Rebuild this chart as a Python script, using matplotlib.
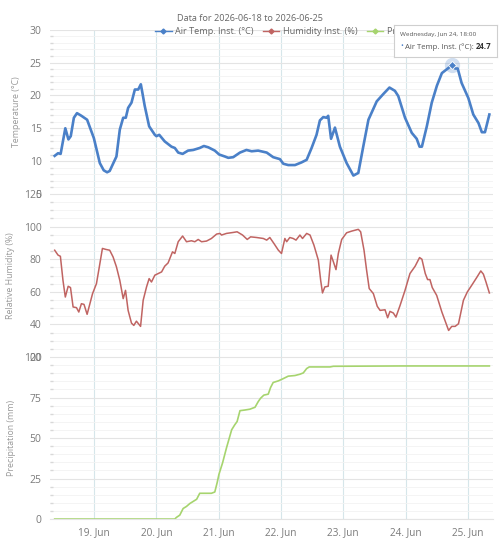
import numpy as np
import pandas as pd
import matplotlib
matplotlib.use("Agg")
import matplotlib.pyplot as plt
import matplotlib.dates as mdates
from matplotlib.ticker import MultipleLocator

plt.rcParams['font.family'] = ['Open Sans', 'DejaVu Sans']

# hours since 2026-06-18 00:00
temp_hours = [8.8, 10.1, 11.1, 12.9, 14.1, 15.0, 16.2, 17.4, 19.1, 21.3, 23.9, 26.2, 27.7, 29.0,
              30.0, 32.6, 33.9, 35.2, 36.2, 37.1, 38.4, 39.7, 41.0, 42.0, 42.6, 43.5, 45.2, 47.4,
              48.0, 49.1, 51.2, 53.8, 55.1, 56.4, 58.1, 60.2, 62.2, 64.7, 66.3, 68.0, 70.5, 72.2,
              74.4, 75.7, 77.6, 80.2, 82.7, 84.7, 87.2, 90.5, 93.0, 95.6, 96.9, 98.8, 101.4, 103.9,
              105.9, 107.8, 109.7, 111.0, 112.3, 113.6, 114.2, 115.3, 116.8, 118.7, 121.3, 123.9,
              125.8, 127.7, 129.7, 132.9, 135.4, 137.8, 139.9, 141.2, 143.8, 146.4, 148.3, 149.4,
              150.3, 152.2, 154.1, 156.1, 158.0, 160.6, 162.0, 163.1, 164.1, 165.6, 168.2, 170.1,
              172.1, 173.4, 174.6, 176.3]
temp_vals = [10.8, 11.2, 11.1, 15.0, 13.3, 13.8, 16.6, 17.3, 16.9, 16.3, 13.5, 9.7, 8.6, 8.3,
             8.5, 10.7, 14.8, 16.6, 16.6, 18.1, 18.9, 20.9, 20.9, 21.7, 20.4, 18.4, 15.3, 14.0,
             13.8, 14.0, 13.0, 12.2, 12.0, 11.3, 11.1, 11.6, 11.7, 12.0, 12.3, 12.1, 11.6, 11.0,
             10.7, 10.5, 10.6, 11.3, 11.7, 11.5, 11.6, 11.3, 10.6, 10.3, 9.6, 9.4, 9.4, 9.8,
             10.2, 12.0, 14.0, 16.2, 16.7, 16.6, 16.9, 13.4, 15.1, 12.2, 9.7, 7.8,
             8.2, 12.2, 16.3, 19.1, 20.2, 21.2, 20.7, 19.9, 16.6, 14.3, 13.4, 12.2,
             12.2, 15.3, 18.9, 21.5, 23.4, 24.2, 24.7, 24.1, 24.1, 21.9, 19.6, 17.1,
             15.8, 14.4, 14.4, 17.1]

hum_hours = [8.8, 10.1, 11.0, 12.0, 12.9, 14.0, 14.9, 15.9, 17.2, 18.1, 19.1, 20.1, 21.3, 23.4,
             24.9, 25.9, 27.2, 28.5, 30.0, 31.3, 32.6, 33.9, 35.2, 36.1, 37.1, 38.4, 39.3, 40.3,
             41.9, 42.9, 44.2, 45.2, 46.1, 47.4, 48.7, 50.0, 51.2, 52.5, 54.2, 55.1, 56.4, 58.1,
             59.6, 61.5, 62.8, 64.1, 65.4, 67.3, 69.2, 71.2, 72.5, 73.1, 75.0, 77.6, 79.1, 81.2,
             83.0, 84.3, 86.6, 89.2, 90.5, 91.7, 93.3, 95.0, 96.2, 97.5, 98.2, 99.4, 100.7, 101.8,
             103.3, 104.3, 105.9, 107.2, 108.7, 110.4, 111.3, 112.0, 112.9, 114.2, 115.3, 116.2,
             117.2, 118.1, 119.4, 121.3, 123.2, 125.8, 126.7, 128.0, 129.0, 130.0, 131.6, 133.1,
             134.2, 136.1, 137.1, 138.0, 139.3, 140.3, 141.9, 143.8, 145.7, 147.7, 149.4, 150.3,
             151.6, 152.5, 153.4, 154.3, 156.0, 158.0, 160.6, 161.8, 163.1, 164.4, 166.3, 167.8,
             169.5, 171.4, 173.0, 174.0, 175.0, 176.3]
hum_vals = [85.5, 82.5, 81.8, 67.0, 56.8, 63.4, 62.6, 50.7, 50.3, 47.6, 52.7, 52.3, 46.2, 58.9,
            65.0, 74.3, 86.6, 86.0, 85.5, 81.4, 75.3, 67.0, 55.8, 60.9, 48.6, 40.8, 39.4, 42.0,
            38.8, 54.8, 63.0, 68.1, 66.0, 70.2, 71.2, 72.2, 75.7, 77.7, 84.5, 83.5, 90.7, 94.2,
            90.7, 91.3, 90.7, 92.1, 90.7, 91.1, 92.7, 95.4, 95.8, 94.8, 95.8, 96.4, 96.8, 94.8,
            92.1, 93.7, 93.3, 92.7, 91.7, 93.3, 89.6, 85.5, 83.5, 92.7, 90.7, 93.3, 92.7, 91.7,
            94.8, 92.7, 95.8, 94.8, 88.6, 79.4, 67.0, 59.3, 63.0, 63.4, 82.5, 78.4,
            73.6, 83.5, 92.1, 96.2, 97.2, 98.3, 96.8, 85.5, 73.2, 62.0, 58.9, 51.1,
            48.6, 49.0, 44.1, 48.0, 47.0, 44.5, 51.7, 60.9, 71.2, 75.7, 81.0, 80.0,
            71.2, 67.5, 67.5, 62.6, 57.8, 47.6, 36.3, 38.8, 38.8, 40.4, 54.8, 59.9,
            64.0, 68.7, 72.8, 70.8, 66.0, 59.3]

rain_hours = [8.8, 55.1, 55.7, 57.0, 58.3, 59.6, 60.9, 61.9, 63.5, 64.7, 69.2, 70.5, 71.4, 72.1,
              73.5, 75.0, 77.0, 78.2, 79.1, 80.2, 82.1, 84.0, 86.0, 87.2, 88.1, 89.4, 91.1, 92.0,
              93.0, 95.0, 96.9, 98.8, 101.4, 103.3, 104.6, 105.9, 106.9, 114.9, 116.2, 141.9, 176.3]
rain_vals = [0, 0, 1.0, 2.4, 6.5, 7.8, 9.6, 10.6, 12.2, 15.9, 15.9, 16.7, 22.4, 27.6,
             34.7, 43.9, 55.1, 58.2, 60.2, 66.9, 67.3, 67.8, 69.0, 72.4, 74.5, 76.5, 77.1, 81.2,
             84.3, 85.3, 86.7, 88.2, 88.6, 89.4, 90.2, 92.9, 93.9, 93.9, 94.3, 94.5, 94.5]

start = pd.Timestamp("2026-06-18 00:00")
def to_time(hours):
    return start + pd.to_timedelta(hours, unit="h")

temp_t = to_time(temp_hours)
hum_t = to_time(hum_hours)
rain_t = to_time(rain_hours)

c_temp = "#4a80c8"
c_hum = "#c06462"
c_rain = "#a6d46e"
grey_txt = "#7a7a7a"

fig = plt.figure(figsize=(5.0, 5.51), dpi=100)
left, width = 0.1, 0.886
ax1 = fig.add_axes([left, 0.648, width, 0.298])
ax2 = fig.add_axes([left, 0.352, width, 0.296])
ax3 = fig.add_axes([left, 0.058, width, 0.294])

xmin = to_time(7.0)
xmax = to_time(177.7)

def style(ax, ylo, yhi, major, minor, label):
    ax.set_xlim(xmin, xmax)
    ax.set_ylim(ylo, yhi)
    ax.yaxis.set_major_locator(MultipleLocator(major))
    ax.yaxis.set_minor_locator(MultipleLocator(minor))
    ax.xaxis.set_major_locator(mdates.DayLocator())
    ax.grid(True, which="major", axis="y", color="#e4e4e4", lw=0.8)
    ax.grid(True, which="minor", axis="y", color="#f3f3f3", lw=0.6)
    ax.grid(True, which="major", axis="x", color="#d6e6ea", lw=0.8)
    for s in ax.spines.values():
        s.set_visible(False)
    ax.tick_params(axis="y", which="major", length=0, labelsize=7.5, labelcolor=grey_txt, pad=6)
    ax.tick_params(axis="y", which="minor", length=2, width=1, color="#d8d8d8", direction="in")
    ax.tick_params(axis="x", length=0)
    ax.set_ylabel(label, fontsize=6.3, color="#999999", labelpad=6)
    ax.set_axisbelow(True)

style(ax1, 5, 30, 5, 1, "Temperature (°C)")
style(ax2, 20, 120, 20, 5, "Relative Humidity (%)")
style(ax3, 0, 100, 25, 5, "Precipitation (mm)")
ax1.tick_params(axis="x", labelbottom=False)
ax2.tick_params(axis="x", labelbottom=False)
ax3.xaxis.set_major_formatter(mdates.DateFormatter("%d. %b"))
ax3.tick_params(axis="x", labelsize=7.2, labelcolor=grey_txt, pad=6)
ax3.spines["bottom"].set_visible(True)
ax3.spines["bottom"].set_color("#e4e4e4")

ax1.plot(temp_t, temp_vals, color=c_temp, lw=1.9, solid_joinstyle="round", clip_on=False)
ax2.plot(hum_t, hum_vals, color=c_hum, lw=1.1)
ax3.plot(rain_t, rain_vals, color=c_rain, lw=1.2)

# hovered point
hi = temp_hours.index(162.0)
ax1.plot(temp_t[hi], temp_vals[hi], "o", ms=11, color=c_temp, alpha=0.25, mec="none", zorder=4)
ax1.plot(temp_t[hi], temp_vals[hi], "D", ms=4.5, color=c_temp, mec="white", mew=0.6, zorder=5)

fig.text(0.5, 0.966, "Data for 2026-06-18 to 2026-06-25", ha="center", va="center",
         fontsize=6.6, color="#666666")

handles = [plt.Line2D([], [], color=c_temp, marker="D", ms=2.5, lw=1),
           plt.Line2D([], [], color=c_hum, marker="D", ms=2.5, lw=1),
           plt.Line2D([], [], color=c_rain, marker="D", ms=2.5, lw=1)]
fig.legend(handles, ["Air Temp. Inst. (°C)", "Humidity Inst. (%)", "Precipitation (mm)"],
           loc="center left", bbox_to_anchor=(0.31, 0.943), ncol=3, frameon=False, fontsize=6.6,
           labelcolor="#666666", handlelength=1.8, columnspacing=1.0, handletextpad=0.4,
           borderpad=0, borderaxespad=0)

# tooltip
tip = fig.add_axes([0.788, 0.8966, 0.206, 0.058])
tip.set_zorder(10)
tip.set_xlim(0, 1)
tip.set_ylim(0, 1)
tip.set_xticks([])
tip.set_yticks([])
tip.set_facecolor("white")
for s in tip.spines.values():
    s.set_color("#cfcfcf")
    s.set_linewidth(0.8)
tip.text(0.06, 0.7, "Wednesday, Jun 24, 18:00", fontsize=4.6, color="#555555", va="center")
tip.text(0.06, 0.32, "•", fontsize=5.5, color=c_temp, va="center")
lab = tip.text(0.11, 0.32, "Air Temp. Inst. (°C): ", fontsize=5.6, color="#555555", va="center")
fig.canvas.draw()
bb = lab.get_window_extent().transformed(tip.transAxes.inverted())
tip.text(bb.x1, 0.32, "24.7", fontsize=5.6, color="#333333", fontweight="bold", va="center")

fig.savefig("out.png", dpi=100, facecolor="white")
